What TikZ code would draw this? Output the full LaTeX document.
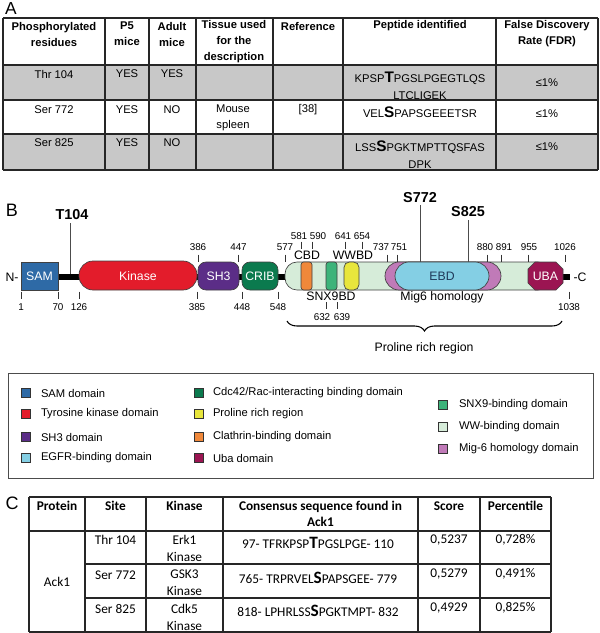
\documentclass[tikz,border=0pt]{standalone}
\usepackage{fontspec}
\setmainfont{Liberation Sans}
\newfontfamily\calib{Carlito}
\usetikzlibrary{decorations.pathreplacing}
\definecolor{samc}{HTML}{2E6AA6}
\definecolor{kinc}{HTML}{E31C2B}
\definecolor{shc}{HTML}{5B2D87}
\definecolor{cribc}{HTML}{0B7A4E}
\definecolor{cbdc}{HTML}{F0883A}
\definecolor{snxc}{HTML}{3DB37A}
\definecolor{wwbdc}{HTML}{E8E63C}
\definecolor{wwc}{HTML}{D6ECD9}
\definecolor{migc}{HTML}{C07AB8}
\definecolor{ebdc}{HTML}{84CFE4}
\definecolor{ubac}{HTML}{9B1552}
\definecolor{rowgray}{HTML}{C8C8C8}
\definecolor{ebdtxt}{HTML}{1F3A5A}
\newcommand{\bigA}[1]{{\fontsize{11.5}{12}\selectfont\bfseries #1}}
\newcommand{\seqf}[1]{{\fontsize{10}{12}\selectfont #1}}
\newcommand{\seqb}[1]{{\fontsize{13}{12}\selectfont\bfseries #1}}
\begin{document}
\begin{tikzpicture}[x=0.75pt,y=-0.75pt,
  every node/.style={inner sep=0pt,outer sep=0pt},
  fA/.style={font=\fontsize{8.4}{12}\selectfont,align=center},
  fAp/.style={font=\fontsize{8.4}{12.75}\selectfont,align=center},
  fAh/.style={font=\fontsize{8.4}{12}\selectfont\bfseries,align=center},
  tk/.style={line width=0.5pt,draw=black!80},
  num/.style={font=\fontsize{7.4}{8}\selectfont},
  dlab/.style={font=\fontsize{9.2}{10}\selectfont},
  sitelab/.style={font=\fontsize{10.8}{12}\selectfont\bfseries},
  dom/.style={draw=black!75,line width=0.5pt},
  legbox/.style={draw=black!80,line width=0.5pt},
  legt/.style={font=\fontsize{8.4}{10}\selectfont,anchor=west},
  fC/.style={font=\calib\fontsize{10}{12.75}\selectfont,align=center},
  fCh/.style={font=\calib\fontsize{10}{12}\selectfont\bfseries,align=center},
  tline/.style={line width=0.8pt,draw=black!85},
  plabel/.style={font=\fontsize{13}{14}\selectfont}
]
\useasboundingbox (0,0) rectangle (600,633);

% ================= Panel A =================
\node[plabel] (labA) at (11,9) {A};
\fill[rowgray] (3,65) rectangle (598,100);
\fill[rowgray] (3,134) rectangle (598,170);
\foreach \yy in {18,65,100,134,170} \draw[tline] (3,\yy) -- (598,\yy);
\foreach \xx in {3,105,149,196,273,343,496,598} \draw[tline] (\xx,18) -- (\xx,170);

\node[fAh] (hA1) at (54,34) {Phosphorylated\\residues};
\node[fAh] (hA2) at (127,34) {P5\\mice};
\node[fAh] (hA3) at (172,34) {Adult\\mice};
\node[fAh] (hA4) at (234,42) {Tissue used\\for the\\description};
\node[fAh] (hA5) at (308,26) {Reference};
\node[fAh] (hA6) at (420,26) {Peptide identified};
\node[fAh] (hA7) at (547,34) {False Discovery\\Rate (FDR)};

\node[fA] (a11) at (54,74) {Thr 104};
\node[fA] (a12) at (127,74) {YES};
\node[fA] (a13) at (172,74) {YES};
\node[fAp] (a16) at (420,85.5) {KPSP\bigA{T}PGSLPGEGTLQS\\LTCLIGEK};
\node[fA] (a17) at (547,83) {≤1\%};

\node[fA] (a21) at (54,110) {Ser 772};
\node[fA] (a22) at (127,110) {YES};
\node[fA] (a23) at (172,110) {NO};
\node[fA] (a24) at (233,118) {Mouse\\spleen};
\node[fA] (a25) at (308,110) {[38]};
\node[fA] (a26) at (420,112) {VEL\bigA{S}PAPSGEEETSR};
\node[fA] (a27) at (547,114) {≤1\%};

\node[fA] (a31) at (54,143) {Ser 825};
\node[fA] (a32) at (127,143) {YES};
\node[fA] (a33) at (172,143) {NO};
\node[fAp] (a36) at (420,154.5) {LSS\bigA{S}PGKTMPTTQSFAS\\DPK};
\node[fA] (a37) at (547,147) {≤1\%};

% ================= Panel B =================
\node[plabel,font=\fontsize{13.5}{14}\selectfont] (labB) at (12,210) {B};
% backbone
\fill[black] (58,273.5) rectangle (570,280);
% light green WW region
\draw[dom,fill=wwc,rounded corners=9pt] (285,262) rectangle (550,290);
% SAM
\draw[dom,fill=samc] (21,262) rectangle (58,290);
\node[dlab,text=white] (sam) at (39.5,276) {SAM};
% Kinase
\draw[dom,fill=kinc,rounded corners=10.5pt] (79,261) rectangle (197,290);
\node[dlab,text=white] (kin) at (138,276) {Kinase};
% SH3
\draw[dom,fill=shc,rounded corners=6pt] (198,262) rectangle (239,290);
\node[dlab,text=white] (sh3) at (218.5,276) {SH3};
% CRIB
\draw[dom,fill=cribc,rounded corners=6pt] (242,262) rectangle (278,290);
\node[dlab,text=white] (crib) at (260,276) {CRIB};
% CBD, SNX9BD, WWBD
\draw[dom,fill=cbdc,rounded corners=2pt] (301,262) rectangle (312,290);
\draw[dom,fill=snxc,rounded corners=2pt] (326,262) rectangle (337,290);
\draw[dom,fill=wwbdc,rounded corners=4pt] (344,262) rectangle (359,290);
% Mig6 + EBD
\draw[dom,fill=migc,rounded corners=10.5pt] (385,262) rectangle (501,290);
\draw[dom,fill=ebdc,rounded corners=10.5pt] (395,262) rectangle (489,290);
\node[dlab,text=ebdtxt] (ebd) at (442,276) {EBD};
% UBA
\draw[dom,fill=ubac] (535,262) -- (556,262) -- (563,269) -- (563,283) -- (556,290) -- (535,290) -- (528,283) -- (528,269) -- cycle;
\node[dlab,text=white] (uba) at (545.5,276) {UBA};
\node[dlab] (nterm) at (12,277) {N-};
\node[dlab] (cterm) at (580,277) {-C};

% phosphosites
\draw[line width=0.6pt,draw=black!70] (70,223) -- (70,273.5);
\node[sitelab] (t104) at (72,215) {T104};
\draw[line width=0.6pt,draw=black!70] (420,205) -- (420,262);
\node[sitelab] (s772) at (420,198) {S772};
\draw[line width=0.6pt,draw=black!70] (468,220) -- (468,262);
\node[sitelab] (s825) at (468,212) {S825};

% upper ticks
\foreach \xx/\lx/\lab in {198/198/386, 238.5/238.5/447, 285/285/577, 387/381/737, 397/399/751, 487/485/880, 501/504/891, 528/529/955, 565/565/1026}{
  \draw[tk] (\xx,254.5) -- (\xx,261.5);
  \node[num] at (\lx,247) {\lab};
}
\foreach \xx/\lx/\lab in {301/299/581, 312/318/590, 345/343/641, 362/362/654}{
  \draw[tk] (\xx,241.5) -- (\xx,249);
  \node[num] at (\lx,236) {\lab};
}
\node[dlab] (cbd) at (307,255) {CBD};
\node[dlab] (wwbd) at (353,255) {WWBD};

% lower ticks
\foreach \xx/\lab in {21/1, 58/70, 79/126, 197/385, 242/448, 278/548, 569/1038}{
  \draw[tk] (\xx,291.5) -- (\xx,298.5);
  \node[num] at (\xx,307) {\lab};
}
\node[dlab] (snx) at (331,296) {SNX9BD};
\draw[tk] (326,302) -- (326,309);
\draw[tk] (337,302) -- (337,309);
\node[num] (n632) at (322,317) {632};
\node[num] (n639) at (342,317) {639};
\node[dlab] (mig) at (442,297) {Mig6 homology};

% brace
\draw[line width=0.8pt,decorate,decoration={brace,amplitude=7.5pt,mirror}] (287,321) -- (562,321);
\node[dlab] (prr) at (424,348) {Proline rich region};

% legend
\draw[line width=0.7pt,draw=black!70] (8,373) rectangle (593,478);
\foreach \col/\yy/\lab/\nm in {samc/393/SAM domain/l1, kinc/414/Tyrosine kinase domain/l2, shc/437/SH3 domain/l3, ebdc/458/EGFR-binding domain/l4}{
  \draw[legbox,fill=\col] (21,\yy-4.5) rectangle (30,\yy+4.5);
  \node[legt] (\nm) at (41,\yy) {\lab};
}
\foreach \col/\yy/\lab/\nm in {cribc/393/Cdc42\slash Rac-interacting binding domain/l5, wwbdc/414/Proline rich region/l6, cbdc/437/Clathrin-binding domain/l7, ubac/458/Uba domain/l8}{
  \draw[legbox,fill=\col] (194,\yy-4.5) rectangle (203,\yy+4.5);
  \node[legt] (\nm) at (213,\yy) {\lab};
}
\foreach \col/\yy/\lab/\nm in {snxc/405/SNX9-binding domain/l9, wwc/427/WW-binding domain/l10, migc/449/Mig-6 homology domain/l11}{
  \draw[legbox,fill=\col] (438,\yy-4.5) rectangle (447,\yy+4.5);
  \node[legt] (\nm) at (459,\yy) {\lab};
}

% ================= Panel C =================
\node[plabel,font=\fontsize{13.5}{14}\selectfont] (labC) at (12,503) {C};
\draw[tline] (29,497) -- (551,497);
\draw[tline] (29,531) -- (551,531);
\draw[tline] (85,564) -- (551,564);
\draw[tline] (85,598) -- (551,598);
\draw[tline] (29,632) -- (551,632);
\foreach \xx in {29,85,146,223,418,480,551} \draw[tline] (\xx,497) -- (\xx,632);

\node[fCh] (hc1) at (57,506) {Protein};
\node[fCh] (hc2) at (115.5,506) {Site};
\node[fCh] (hc3) at (184.5,506) {Kinase};
\node[fCh] (hc4) at (320.5,514) {Consensus sequence found in\\Ack1};
\node[fCh] (hc5) at (449,506) {Score};
\node[fCh] (hc6) at (515.5,506) {Percentile};

\node[fC] (ack) at (57,582) {Ack1};
\node[fC] (c11) at (115.5,540) {Thr 104};
\node[fC] (c12) at (184.5,548.5) {Erk1\\Kinase};
\node[fC] (c13) at (318,543) {97- \seqf{TFRKPSP}\seqb{T}\seqf{PGSLPGE}- 110};
\node[fC] (c14) at (449,540) {0,5237};
\node[fC] (c15) at (515.5,540) {0,728\%};

\node[fC] (c21) at (115.5,575) {Ser 772};
\node[fC] (c22) at (184.5,583) {GSK3\\Kinase};
\node[fC] (c23) at (318,578) {765- \seqf{TRPRVEL}\seqb{S}\seqf{PAPSGEE}- 779};
\node[fC] (c24) at (449,574) {0,5279};
\node[fC] (c25) at (515.5,574) {0,491\%};

\node[fC] (c31) at (115.5,609) {Ser 825};
\node[fC] (c32) at (184.5,617) {Cdk5\\Kinase};
\node[fC] (c33) at (318,611) {818- \seqf{LPHRLSS}\seqb{S}\seqf{PGKTMPT}- 832};
\node[fC] (c34) at (449,608) {0,4929};
\node[fC] (c35) at (515.5,608) {0,825\%};
\end{tikzpicture}
\end{document}
